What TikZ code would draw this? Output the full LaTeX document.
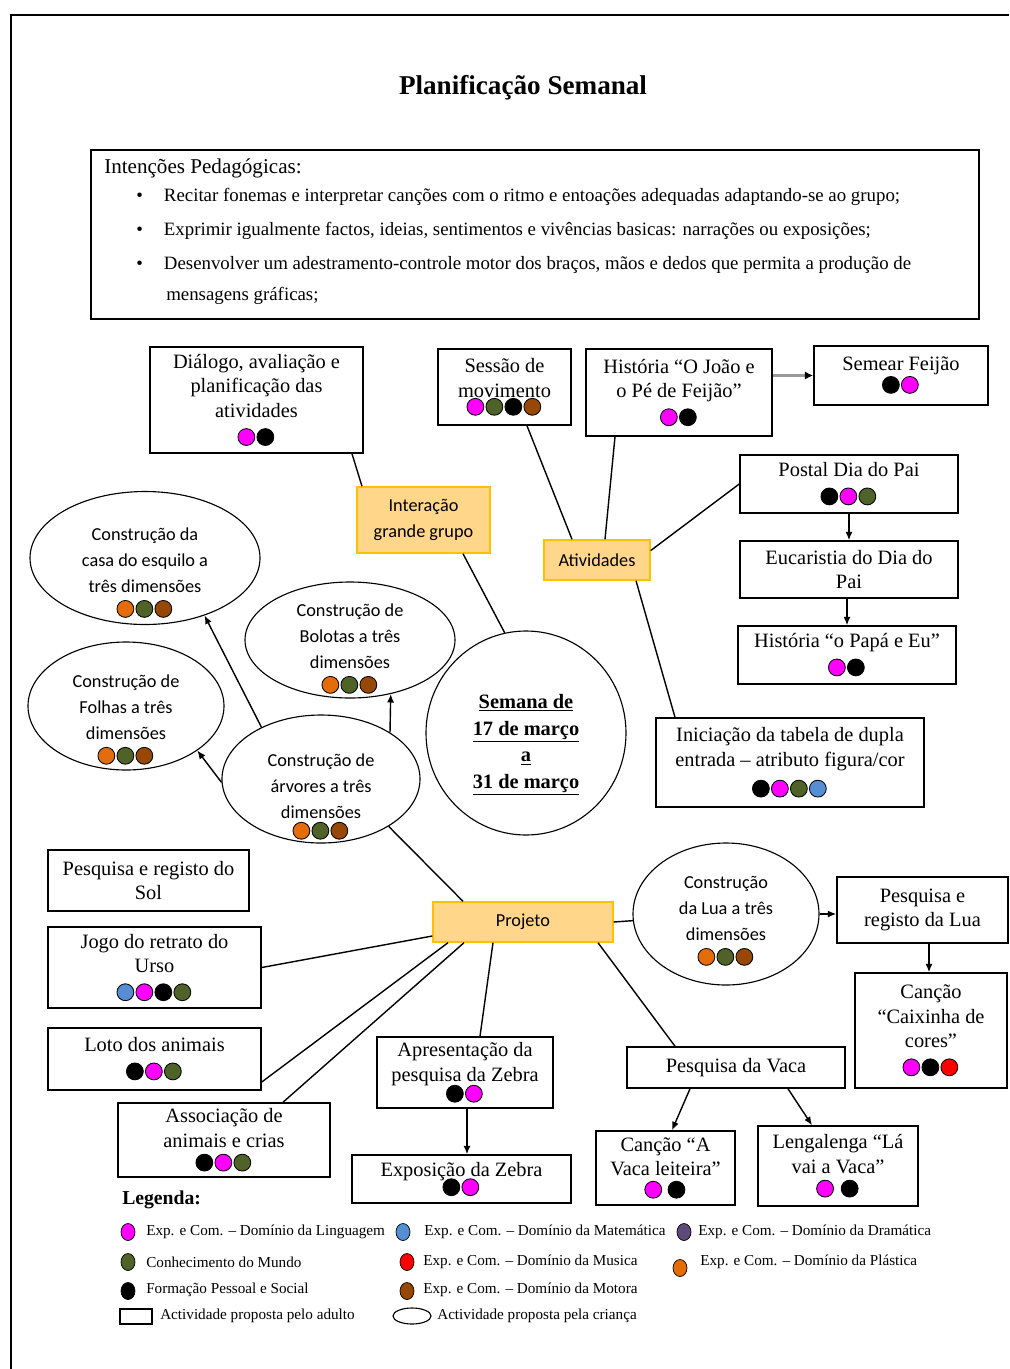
\documentclass[tikz,border=0pt]{standalone}
\usepackage{fontspec}
\usepackage{tikz}
\usetikzlibrary{shapes.geometric,arrows.meta}
\setmainfont{Liberation Serif}
\newfontfamily\calibri{Carlito}
\definecolor{rosa}{RGB}{255,0,255}
\definecolor{verde}{RGB}{79,98,40}
\definecolor{castanho}{RGB}{151,71,6}
\definecolor{laranja}{RGB}{228,108,10}
\definecolor{azul}{RGB}{85,142,213}
\definecolor{vermelho}{RGB}{255,0,0}
\definecolor{roxo}{RGB}{95,73,122}
\definecolor{preto}{RGB}{0,0,0}
\definecolor{laranjaclaro}{RGB}{255,214,138}
\definecolor{laranjaborda}{RGB}{255,192,0}

\begin{document}
\begin{tikzpicture}[x=0.025cm,y=-0.025cm]
                \tikzstyle{caixa}=[draw,line width=1.1pt,inner sep=0pt,align=center,font=\fontsize{14.5}{17.5}\selectfont]
                \tikzstyle{elipse}=[draw,ellipse,line width=0.8pt,inner xsep=0pt,inner ysep=-20pt,align=center,font=\calibri\fontsize{13}{18.5}\selectfont]
                \tikzstyle{laranjabox}=[draw=laranjaborda,fill=laranjaclaro,line width=1pt,inner sep=0pt,align=center,font=\calibri\fontsize{13}{19}\selectfont]
                \tikzstyle{ligacao}=[line width=1pt]
                \tikzstyle{seta}=[-{Latex[length=6pt,width=5pt]},line width=1pt]
                \tikzstyle{legtxt}=[anchor=west,inner sep=0pt,font=\fontsize{10.8}{12}\selectfont]
                \newcommand\bolas[1]{\foreach \c in {#1}{\tikz[baseline=-3.6pt]\draw[line width=.6pt,fill=\c] (0,0) circle (6pt);\kern0.9pt}}
                \newcommand\caixa[6]{\node[caixa,minimum width={(#3-#1)*0.025cm},minimum height={(#4-#2)*0.025cm}] (#5) at ({(#1+#3)/2},{(#2+#4)/2}) {#6};}
                \newcommand\laranjacaixa[6]{\node[laranjabox,minimum width={(#3-#1)*0.025cm},minimum height={(#4-#2)*0.025cm}] (#5) at ({(#1+#3)/2},{(#2+#4)/2}) {#6};}
                \newcommand\elip[7]{\node[elipse,minimum width=#3*0.025cm,minimum height=#4*0.025cm] (#5) at (#1,#2) {\rule{0pt}{#7pt}#6};}
                \useasboundingbox (0,0) rectangle (1009,1369);
                \draw[line width=1.6pt] (1009,15) -- (11,15) -- (11,1369);
                \node[font=\bfseries\fontsize{19.3}{22}\selectfont] (titulo) at (523,88) {Planificação Semanal};
                % intencoes
                \caixa{91}{150}{979}{319}{intencoes}{}
                \node[anchor=west,inner sep=0pt,font=\fontsize{15}{17}\selectfont] (intTitulo) at (104,168) {Intenções Pedagógicas:};
                \foreach \y/\t [count=\i] in {197/{Recitar fonemas e interpretar canções com o ritmo e entoações adequadas adaptando-se ao grupo;},
                    231/{Exprimir igualmente factos, ideias, sentimentos e vivências basicas: narrações ou exposições;},
                    265/{Desenvolver um adestramento-controle motor dos braços, mãos e dedos que permita a produção de}}
                    \node[anchor=west,inner sep=0pt,font=\fontsize{13.4}{16}\selectfont] (int\i) at (136,\y) {\textbullet\hspace{15pt}\t};
                \node[anchor=west,inner sep=0pt,font=\fontsize{13.4}{16}\selectfont] (int4) at (166,296) {mensagens gráficas;};
                % caixas
                \caixa{150}{347}{363}{453}{dialogo}{Diálogo, avaliação e\\planificação das\\atividades\\\bolas{rosa,preto}}
                \caixa{438}{349}{571}{425}{sessao}{Sessão de\\movimento\\[-7pt]\bolas{rosa,verde,preto,castanho}}
                \caixa{586}{349}{772}{436}{historia}{História “O João e\\o Pé de Feijão”\\\bolas{rosa,preto}}
                \caixa{814}{346}{988}{405}{semear}{Semear Feijão\\[-4pt]\bolas{preto,rosa}}
                \caixa{740}{455}{958}{513}{postal}{Postal Dia do Pai\\\bolas{preto,rosa,verde}}
                \caixa{740}{541}{958}{598}{eucaristia}{Eucaristia do Dia do\\Pai}
                \caixa{738}{626}{956}{684}{papa}{História “o Papá e Eu”\\\bolas{rosa,preto}}
                \caixa{656}{718}{924}{807}{iniciacao}{Iniciação da tabela de dupla\\entrada – atributo figura/cor\\[2pt]\bolas{preto,rosa,verde,azul}}
                \caixa{48}{850}{249}{911}{sol}{Pesquisa e registo do\\Sol}
                \caixa{48}{927}{261}{1008}{urso}{Jogo do retrato do\\Urso\\\bolas{azul,rosa,preto,verde}}
                \caixa{48}{1028}{261}{1090}{loto}{Loto dos animais\\\bolas{preto,rosa,verde}}
                \caixa{118}{1103}{330}{1177}{associacao}{Associação de\\animais e crias\\[-3pt]\bolas{preto,rosa,verde}}
                \caixa{377}{1037}{553}{1108}{apresentacao}{Apresentação da\\pesquisa da Zebra\\[-5pt]\bolas{preto,rosa}}
                \caixa{352}{1155}{571}{1203}{exposicao}{Exposição da Zebra\\[-6pt]\bolas{preto,rosa}}
                \caixa{837}{877}{1008}{943}{pesqLua}{Pesquisa e\\registo da Lua}
                \caixa{855}{973}{1007}{1088}{caixinha}{Canção\\“Caixinha de\\cores”\\\bolas{rosa,preto,vermelho}}
                \caixa{627}{1047}{845}{1088}{vaca}{Pesquisa da Vaca}
                \caixa{596}{1131}{735}{1205}{cancaoVaca}{Canção “A\\Vaca leiteira”\\[-4pt]\bolas{rosa}\hspace{3pt}\bolas{preto}}
                \caixa{758}{1126}{918}{1206}{lengalenga}{Lengalenga “Lá\\vai a Vaca”\\[-3pt]\bolas{rosa}\hspace{4pt}\bolas{preto}}
                % elipses
                \elip{145}{558}{230}{133}{casa}{Construção da\\casa do esquilo a\\três dimensões\\[-3pt]\bolas{laranja,verde,castanho}}{29.8}
                \elip{350}{640}{210}{116}{bolotas}{Construção de\\Bolotas a três\\dimensões\\[-3pt]\bolas{laranja,verde,castanho}}{21.2}
                \elip{126}{706}{196}{128}{folhas}{Construção de\\Folhas a três\\dimensões\\[-3pt]\bolas{laranja,verde,castanho}}{28.2}
                \elip{321}{779}{198}{128}{arvores}{Construção de\\árvores a três\\dimensões\\[-6pt]\bolas{laranja,verde,castanho}}{34}
                \elip{726}{914}{186}{142}{lua}{Construção\\da Lua a três\\dimensões\\[-3pt]\bolas{laranja,verde,castanho}}{18.4}
                \node[elipse,minimum width=200*0.025cm,minimum height=204*0.025cm,font=\bfseries\fontsize{14.5}{19}\selectfont] (semana) at (526,733)
                    {\rule{0pt}{27pt}\underline{Semana de}\\\underline{17 de março}\\\underline{a}\\\underline{31 de março}};
                % caixas laranja
                \laranjacaixa{357}{487}{490}{553}{interacao}{Interação\\grande grupo}
                \laranjacaixa{544}{540}{650}{580}{atividades}{Atividades}
                \laranjacaixa{433}{902}{613}{942}{projeto}{Projeto}
                % ligacoes
                \draw[ligacao] (352,0 |- dialogo.south) -- (362,0 |- interacao.north);
                \draw[ligacao] (463,0 |- interacao.south) -- (semana.102);
                \draw[ligacao] (527,0 |- sessao.south) -- (572,0 |- atividades.north);
                \draw[ligacao] (615,0 |- historia.south) -- (605,0 |- atividades.north);
                \draw[ligacao] (postal.west) -- (atividades.10);
                \draw[ligacao] (636,0 |- atividades.south) -- (675,0 |- iniciacao.north);
                \draw[seta,draw=gray!80,line width=1.8pt,-{Latex[length=6pt,width=6pt,black]}] (semear.west -| historia.east) -- (semear.west);
                \draw[seta] (849,0 |- postal.south) -- (849,0 |- eucaristia.north);
                \draw[seta] (847,0 |- eucaristia.south) -- (847,0 |- papa.north);
                \draw[seta] (arvores.139) -- (casa.-44);
                \draw[seta] (arvores.182) -- (folhas.-32);
                \draw[seta] (arvores.34) -- (bolotas.-53);
                \draw[ligacao] (arvores.-35) -- (463,0 |- projeto.north);
                \draw[ligacao] (projeto.west |- 0,936) -- (urso.east);
                \draw[ligacao] (448,0 |- projeto.south) -- (loto.east |- 0,1082);
                \draw[ligacao] (464,0 |- projeto.south) -- (283,0 |- associacao.north);
                \draw[ligacao] (493,0 |- projeto.south) -- (480,0 |- apresentacao.north);
                \draw[seta] (467,0 |- apresentacao.south) -- (467,0 |- exposicao.north);
                \draw[ligacao] (projeto.east) -- (lua);
                \draw[seta] (lua.east) -- (pesqLua.west |- lua.east);
                \draw[seta] (929,0 |- pesqLua.south) -- (929,0 |- caixinha.north);
                \draw[ligacao] (598,0 |- projeto.south) -- (675,0 |- vaca.north);
                \draw[seta] (690,0 |- vaca.south) -- (672,0 |- cancaoVaca.north);
                \draw[seta] (788,0 |- vaca.south) -- (812,0 |- lengalenga.north);
                % legenda
                \node[anchor=west,inner sep=0pt,font=\bfseries\fontsize{14}{16}\selectfont] (legenda) at (122,1200) {Legenda:};
                \foreach \x/\y/\c/\tx/\ty/\t [count=\i] in {128/1232/rosa/146/1232/Exp. e Com. – Domínio da Linguagem,
                    403/1232/azul/424/1232/Exp. e Com. – Domínio da Matemática,
                    684/1232/roxo/698/1232/Exp. e Com. – Domínio da Dramática,
                    128/1262/verde/146/1262/Conhecimento do Mundo,
                    407/1262/vermelho/423/1262/Exp. e Com. – Domínio da Musica,
                    680/1268/laranja/700/1262/Exp. e Com. – Domínio da Plástica,
                    128/1291/preto/146/1290/Formação Pessoal e Social,
                    407/1291/castanho/423/1290/Exp. e Com. – Domínio da Motora}
                {
                    \draw[line width=.5pt,fill=\c] (\x,\y) ellipse [x radius=7,y radius=8.5];
                    \node[legtxt] (leg\i) at (\tx,\ty) {\t};
                }
                \draw[line width=1pt] (120,1309) rectangle (152,1324);
                \node[legtxt] (legAdulto) at (160,1316) {Actividade proposta pelo adulto};
                \draw[line width=.8pt] (412,1316) ellipse [x radius=19,y radius=8];
                \node[legtxt] (legCrianca) at (437,1316) {Actividade proposta pela criança};
            \end{tikzpicture}
\end{document}
